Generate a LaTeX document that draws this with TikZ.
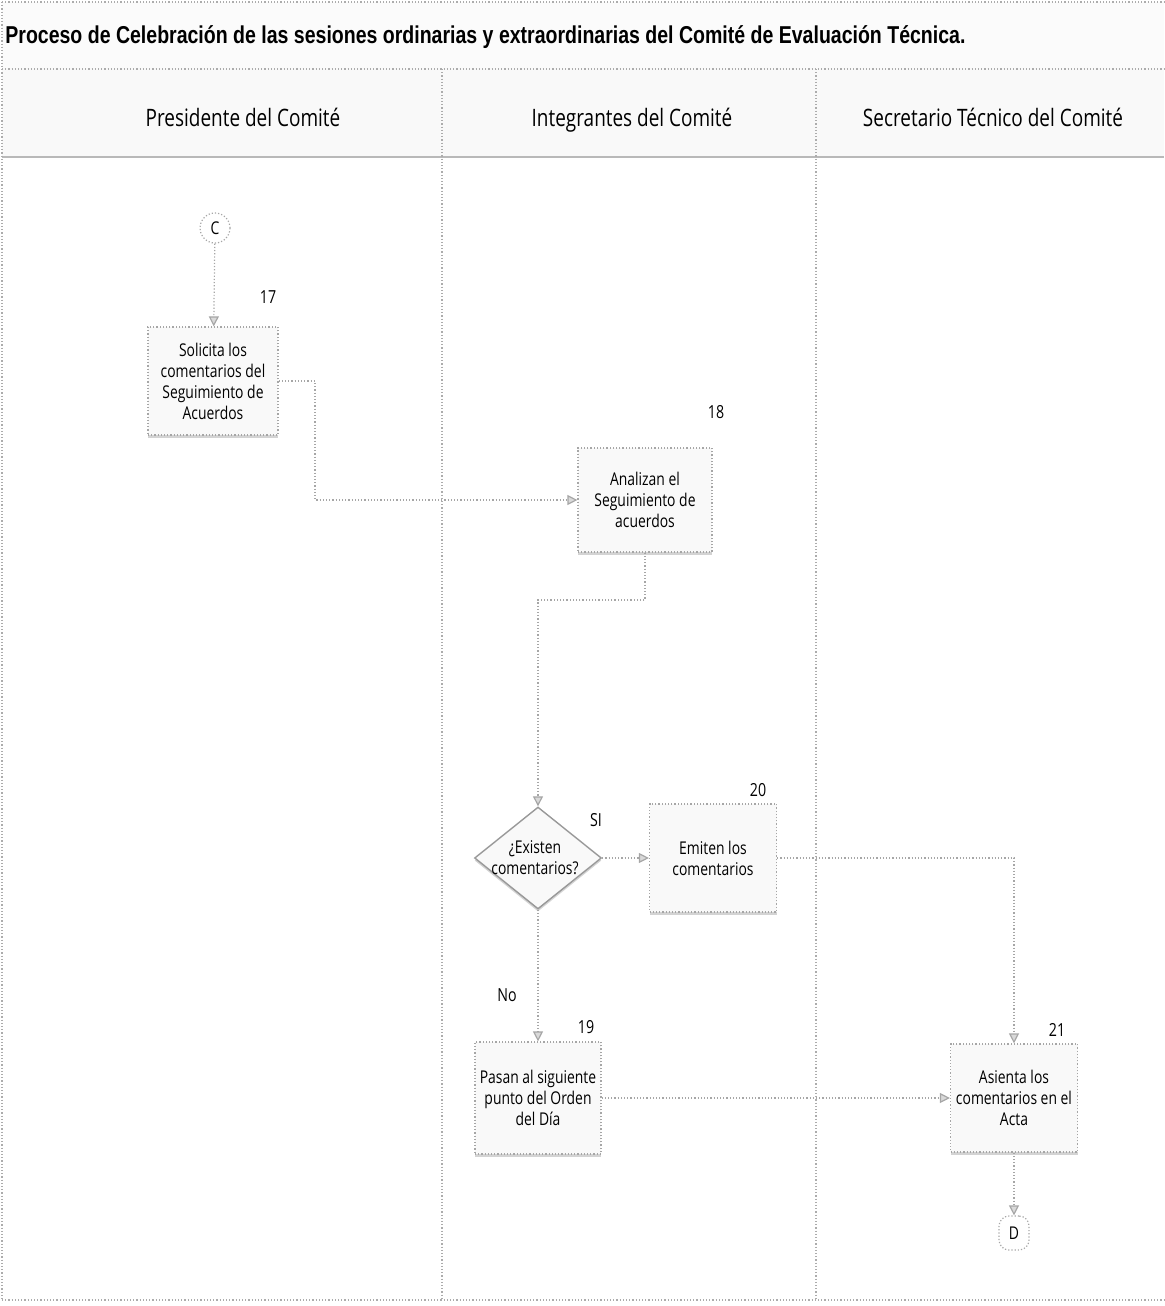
\documentclass[tikz,border=0pt]{standalone}
\usepackage{fontspec}
\setmainfont{Open Sans}
\newfontfamily\lanefont[FakeStretch=0.79]{Open Sans}
\newfontfamily\titlefont[FakeStretch=0.8]{Liberation Sans}
\usetikzlibrary{shapes.geometric,arrows.meta,shadows}

\tikzset{
  frameline/.style={draw=gray!65, densely dotted, line width=0.6pt},
  flow/.style={draw=gray!70, densely dotted, line width=0.6pt,
    -{Triangle[length=5pt,width=5pt,fill=gray!30]}},
  boxshadow/.style={drop shadow={shadow xshift=0pt, shadow yshift=-1.3pt, opacity=0.35, fill=gray}},
  stepbox/.style={draw=gray!70, densely dotted, line width=0.6pt, fill=gray!5,
    minimum width=65pt, minimum height=54pt, inner sep=2pt, align=center,
    font=\lanefont\fontsize{8.8}{10.5}\selectfont, boxshadow},
  decbox/.style={diamond, draw=gray!80, line width=0.7pt, fill=gray!5,
    minimum width=63.5pt, minimum height=51pt, inner sep=0pt, boxshadow},
  linkmark/.style={draw=gray!70, densely dotted, line width=0.6pt, fill=white,
    font=\lanefont\fontsize{8.8}{10}\selectfont, inner sep=0pt},
  steplabel/.style={font=\lanefont\fontsize{9}{10}\selectfont, inner sep=0pt},
  lanehead/.style={font=\lanefont\fontsize{12}{14}\selectfont, inner sep=0pt, anchor=base},
}

\begin{document}
\begin{tikzpicture}[x=0.5pt,y=-0.5pt]
  \useasboundingbox (0,0) rectangle (1164,1306);

  % title band and lane headers
  \fill[gray!3] (2,2) rectangle (1164,68);
  \fill[gray!5] (2,68) rectangle (1164,157);
  \node[anchor=west, inner sep=0pt, font=\titlefont\bfseries\fontsize{12.2}{14}\selectfont]
    (title) at (5,37) {Proceso de Celebración de las sesiones ordinarias y extraordinarias del Comité de Evaluación Técnica.};
  \draw[frameline] (2,2) -- (1164,2);
  \draw[frameline] (2,69) -- (1164,69);
  \draw[draw=gray!55, line width=1.4pt] (2,157) -- (1164,157);
  \draw[frameline] (2,2) -- (2,1300);
  \draw[frameline] (2,1300) -- (1164,1300);
  \draw[frameline] (442,69) -- (442,1300);
  \draw[frameline] (816,69) -- (816,1300);

  \node[lanehead] (h1) at (243,126) {Presidente del Comité};
  \node[lanehead] (h2) at (632,126) {Integrantes del Comité};
  \node[lanehead] (h3) at (993,126) {Secretario Técnico del Comité};

  % steps
  \node[linkmark, circle, minimum size=15pt] (c) at (215,228) {C};
  \node[stepbox] (s17) at (213,381) {Solicita los\\comentarios del\\Seguimiento de\\Acuerdos};
  \node[stepbox, minimum width=67pt, minimum height=52pt] (s18) at (645,500) {Analizan el\\Seguimiento de\\acuerdos};
  \node[decbox] (dec) at (538,858) {};
  \node[align=center, font=\lanefont\fontsize{8.8}{10.5}\selectfont, inner sep=0pt] (dectext) at (535,858) {¿Existen\\comentarios?};
  \node[stepbox, minimum width=63.5pt] (s20) at (713,858) {Emiten los\\comentarios};
  \node[stepbox, minimum width=63pt, minimum height=56pt] (s19) at (538,1098) {Pasan al siguiente\\punto del Orden\\del Día};
  \node[stepbox, minimum width=63.5pt] (s21) at (1014,1098) {Asienta los\\comentarios en el\\Acta};
  \node[linkmark, rounded corners=5pt, minimum width=15pt, minimum height=17pt] (d) at (1014,1233) {D};

  % step numbers and branch labels
  \node[steplabel] (n17) at (268,297) {17};
  \node[steplabel] (n18) at (716,412) {18};
  \node[steplabel] (n20) at (758,790) {20};
  \node[steplabel] (n19) at (586,1027) {19};
  \node[steplabel] (n21) at (1057,1030) {21};
  \node[steplabel] (si) at (596,820) {SI};
  \node[steplabel] (no) at (507,995) {No};

  % connectors
  \coordinate (k1) at (315,381);
  \coordinate (k2) at (645,600);
  \draw[flow] (c) -- (s17);
  \draw[flow] (s17.east) -- (k1) |- (s18.west);
  \draw[flow] (s18.south) -- (k2) -| (dec.north);
  \draw[flow] (dec.east) -- (s20.west);
  \draw[flow] (s20.east) -| (s21.north);
  \draw[flow] (dec.south) -- (s19.north);
  \draw[flow] (s19.east) -- (s21.west);
  \draw[flow] (s21.south) -- (d.north);
\end{tikzpicture}
\end{document}
